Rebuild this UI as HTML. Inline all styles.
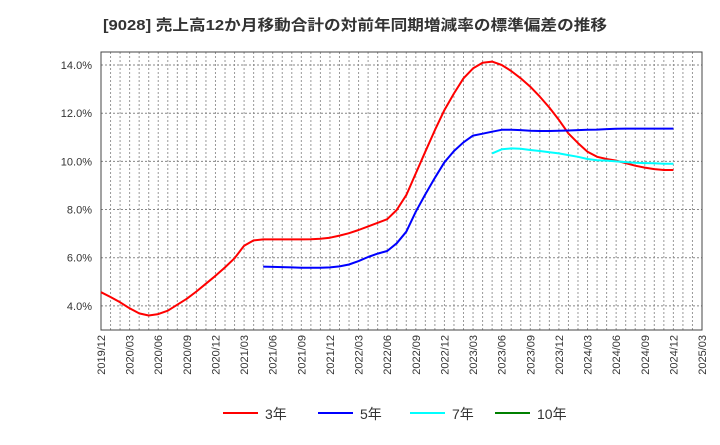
<!DOCTYPE html>
<html><head><meta charset="utf-8"><style>
body{margin:0;background:#fff;}
svg text{font-family:"Liberation Sans","Noto Sans CJK JP",sans-serif;}
</style></head><body>
<svg id="chart" width="720" height="440" xmlns="http://www.w3.org/2000/svg">
<rect width="720" height="440" fill="#fff"/>
<text x="103" y="30" font-size="15" font-weight="bold" fill="#333" textLength="504" lengthAdjust="spacingAndGlyphs">[9028]  売上高12か月移動合計の対前年同期増減率の標準偏差の推移</text>
<g id="grid"></g><g id="axes"></g><g id="series"></g>
<g>
<g><line x1="223" y1="413" x2="258" y2="413" stroke="#ff0000" stroke-width="2"/><text x="265" y="419" font-size="14" fill="#333">3年</text></g>
<g><line x1="318" y1="413" x2="353" y2="413" stroke="#0000ff" stroke-width="2"/><text x="360" y="419" font-size="14" fill="#333">5年</text></g>
<g><line x1="410" y1="413" x2="445" y2="413" stroke="#00ffff" stroke-width="2"/><text x="452" y="419" font-size="14" fill="#333">7年</text></g>
<g><line x1="495" y1="413" x2="530" y2="413" stroke="#008000" stroke-width="2"/><text x="537" y="419" font-size="14" fill="#333">10年</text></g>
</g>
</svg>
<script>
const xTickLabels=["2019/12","2020/03","2020/06","2020/09","2020/12","2021/03","2021/06","2021/09","2021/12","2022/03","2022/06","2022/09","2022/12","2023/03","2023/06","2023/09","2023/12","2024/03","2024/06","2024/09","2024/12","2025/03"];
const yTicks=[4,6,8,10,12,14];
const series3=[4.57,4.37,4.15,3.9,3.69,3.6,3.66,3.8,4.05,4.3,4.6,4.92,5.25,5.6,5.98,6.5,6.72,6.76,6.76,6.76,6.76,6.76,6.77,6.79,6.83,6.92,7.02,7.15,7.3,7.45,7.6,7.98,8.6,9.5,10.4,11.3,12.13,12.82,13.45,13.86,14.09,14.14,14.0,13.75,13.45,13.1,12.69,12.23,11.72,11.16,10.76,10.4,10.19,10.1,10.03,9.93,9.82,9.74,9.68,9.64,9.64];
const series5Start=17;
const series5=[5.63,5.62,5.61,5.6,5.58,5.58,5.58,5.6,5.64,5.72,5.86,6.03,6.17,6.28,6.6,7.08,7.91,8.63,9.32,9.96,10.43,10.79,11.07,11.15,11.23,11.31,11.31,11.3,11.27,11.26,11.26,11.27,11.28,11.3,11.31,11.32,11.34,11.35,11.36,11.36,11.36,11.36,11.36,11.36];
const series7Start=41;
const series7=[10.33,10.5,10.54,10.52,10.47,10.43,10.38,10.33,10.26,10.19,10.1,10.05,10.03,10.0,9.97,9.94,9.93,9.92,9.9,9.9];
const series10=[];
const L=101,R=702,T=52,B=330,yMin=3.0,yMax=14.54,nMonths=63;
const xS=i=>L+(R-L)*i/nMonths;
const yS=v=>B-(B-T)*(v-yMin)/(yMax-yMin);
const NS="http://www.w3.org/2000/svg";
function mk(tag,attrs,parent){const e=document.createElementNS(NS,tag);for(const k in attrs)e.setAttribute(k,attrs[k]);parent.appendChild(e);return e;}
const grid=document.getElementById('grid'),axes=document.getElementById('axes'),ser=document.getElementById('series');
for(let i=1;i<nMonths;i++){const l=mk('line',{x1:xS(i),x2:xS(i),y1:T,y2:B,stroke:'#999','stroke-dasharray':'2,2','stroke-width':1},grid);

}
yTicks.forEach(v=>{const l=mk('line',{x1:L,x2:R,y1:yS(v),y2:yS(v),stroke:'#888','stroke-dasharray':'2,2','stroke-width':1},grid);


const t=mk('text',{x:92,y:yS(v)+4,'font-size':11,'text-anchor':'end',fill:'#333'},axes);
t.textContent=v.toFixed(1)+'%';

});
const box=mk('rect',{x:L,y:T,width:R-L,height:B-T,fill:'none',stroke:'#444','stroke-width':1},axes);


xTickLabels.forEach((s,k)=>{const x=xS(k*3);const t=mk('text',{x:0,y:0,'font-size':11,'text-anchor':'end',fill:'#333',transform:`translate(${x+4},${B+5}) rotate(-90)`},axes);
t.textContent=s;

});
function draw(arr,start,color,name){if(!arr.length)return;const d=arr.map((v,i)=>(i?'L':'M')+xS(start+i).toFixed(1)+','+yS(v).toFixed(1)).join(' ');
const p=mk('path',{d:d,fill:'none',stroke:color,'stroke-width':2,'stroke-linejoin':'round'},ser);

}
draw(series3,0,'#ff0000','line-3y');
draw(series5,series5Start,'#0000ff','line-5y');
draw(series7,series7Start,'#00ffff','line-7y');
draw(series10,0,'#008000','line-10y');
</script>
</body></html>
